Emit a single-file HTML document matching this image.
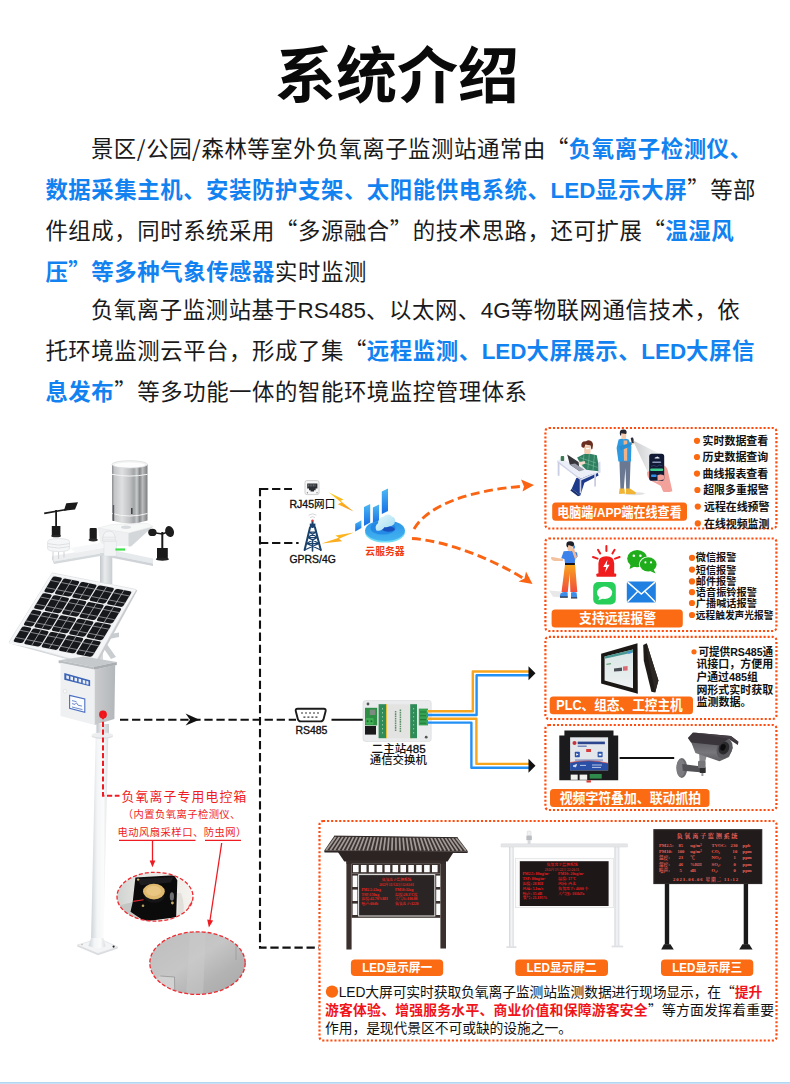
<!DOCTYPE html>
<html lang="zh-CN">
<head>
<meta charset="utf-8">
<title>系统介绍</title>
<style>
html,body{margin:0;padding:0;background:#fff;}
body{width:790px;height:1084px;position:relative;overflow:hidden;font-family:"Liberation Sans","Noto Sans CJK SC",sans-serif;color:#111;}
.title{position:absolute;left:2px;top:33px;width:790px;text-align:center;font-size:61px;font-weight:700;line-height:88px;color:#0a0a0a;letter-spacing:0px;}
.para{position:absolute;left:45.4px;top:127.8px;width:740px;font-size:22.4px;letter-spacing:.57px;line-height:38px;color:#1a1a1a;white-space:nowrap;}
.para b{color:#1282f1;font-weight:700;}
.q{font-family:"Noto Sans CJK SC","Liberation Sans",sans-serif;}
.ind{display:inline-block;width:45.5px;}
.l{letter-spacing:0;}
.sl{font-family:"Noto Sans CJK SC","Liberation Sans",sans-serif;}
#g{position:absolute;left:0;top:0;}
.foot{position:absolute;left:0;top:1082px;width:790px;height:2px;background:#c6e0f5;border-top:1px solid #b3d6f1;box-sizing:border-box;}
</style>
</head>
<body>
<div class="title">系统介绍</div>
<div class="para">
<span class="ind"></span>景区<span class="sl">/</span>公园<span class="sl">/</span>森林等室外负氧离子监测站通常由<span class="q">“</span><b>负氧离子检测仪、</b><br>
<b>数据采集主机、安装防护支架、太阳能供电系统、<span class="l">LED</span>显示大屏</b><span class="q">”</span>等部<br>
件组成，同时系统采用<span class="q">“</span>多源融合<span class="q">”</span>的技术思路，还可扩展<span class="q">“</span><b>温湿风</b><br>
<b>压<span class="q">”</span>等多种气象传感器</b>实时监测<br>
<span class="ind"></span>负氧离子监测站基于<span class="l">RS485</span>、以太网、<span class="l">4G</span>等物联网通信技术，依<br>
托环境监测云平台，形成了集<span class="q">“</span><b>远程监测、<span class="l">LED</span>大屏展示、<span class="l">LED</span>大屏信</b><br>
<b>息发布</b><span class="q">”</span>等多功能一体的智能环境监控管理体系
</div>
<svg id="g" width="790" height="1084" viewBox="0 0 790 1084">
<defs>
<style>
.dk{fill:none;stroke:#111;stroke-width:2.1;stroke-dasharray:8.3 3.75;}
.dot{fill:none;stroke:#ff4d0f;stroke-width:2.2;stroke-dasharray:2.1 1.95;}
.t{font-family:"Liberation Sans","Noto Sans CJK SC",sans-serif;}
.lab{fill:#fb6b13;}
.labt{font-family:"Liberation Sans","Noto Sans CJK SC",sans-serif;font-weight:700;fill:#fff;text-anchor:middle;}
</style>
</defs>
<!-- black dashed connectors -->
<path class="dk" d="M260 489H292M260 488V947.6H319"/>
<path class="dk" d="M260 543H298.6"/>
<path class="dk" d="M120 719.8H296"/>
<path d="M199.4 719.8L185.6 713.6L190 719.8L185.6 725.4Z" fill="#111"/>
<path d="M331.5 719.8H364" stroke="#111" stroke-width="2" fill="none"/>
<!-- orange dashed curves -->
<g fill="none" stroke="#fb6412" stroke-width="2.9" stroke-dasharray="9 4.6">
<path d="M414 529C428 505 470 490 526 486"/>
<path d="M412 538.5C450 541 498 562 526 580"/>
</g>
<path d="M534 485L521 479.5L524 486.5L522.5 491.5Z" fill="#fb6412"/>
<path d="M532.5 584L518.5 581.5L524.5 578.5L526 571.5Z" fill="#fb6412"/>
<!-- dotted boxes -->
<rect class="dot" x="545.4" y="428" width="231" height="100.5" rx="3.5"/>
<rect class="dot" x="545.4" y="538.5" width="231" height="92.5" rx="3.5"/>
<rect class="dot" x="545.4" y="636.9" width="231" height="82.1" rx="3.5"/>
<rect class="dot" x="545.4" y="725" width="231" height="85" rx="3.5"/>
<rect class="dot" x="319.5" y="821" width="457" height="219.5" rx="3.5"/>

<defs>
<linearGradient id="cyl" x1="0" x2="1" y1="0" y2="0">
<stop offset="0" stop-color="#8a8d8f"/><stop offset=".07" stop-color="#c3c5c7"/><stop offset=".28" stop-color="#dfe0e1"/><stop offset=".5" stop-color="#bfc1c3"/><stop offset=".62" stop-color="#a2a5a7"/><stop offset=".7" stop-color="#c9cbcc"/><stop offset=".78" stop-color="#85888a"/><stop offset=".86" stop-color="#b9bbbd"/><stop offset="1" stop-color="#7b7e80"/>
</linearGradient>
<linearGradient id="pole" x1="0" x2="1" y1="0" y2="0">
<stop offset="0" stop-color="#cfd4d9"/><stop offset=".35" stop-color="#f3f5f6"/><stop offset=".7" stop-color="#fbfbfb"/><stop offset="1" stop-color="#d9dde1"/>
</linearGradient>
<linearGradient id="pole2" x1="0" x2="1" y1="0" y2="0">
<stop offset="0" stop-color="#c3c7cb"/><stop offset=".4" stop-color="#e9ebed"/><stop offset="1" stop-color="#c9cdd0"/>
</linearGradient>
<linearGradient id="boxside" x1="0" x2="1" y1="0" y2="0">
<stop offset="0" stop-color="#c9cbcd"/><stop offset="1" stop-color="#b4b7ba"/>
</linearGradient>
</defs>
<g id="station">
<!-- lower pole -->
<path d="M96 724L108.6 724L103.3 941L91 941Z" fill="url(#pole)"/>
<path d="M96.6 724H109V734H96.6Z" fill="url(#pole2)"/>
<ellipse cx="102.3" cy="736" rx="10.8" ry="3" fill="#dde0e3"/>
<ellipse cx="102.3" cy="735" rx="10.8" ry="2.6" fill="#eceef0"/>
<!-- base plate -->
<path d="M77.3 945L99.2 938.6L117.8 947L98 953.5Z" fill="#f3f4f5" stroke="#dfe2e5" stroke-width=".8"/>
<path d="M77.3 945L98 953.5L117.8 947L117.8 948.6L98 955.2L77.3 946.6Z" fill="#d9dcdf"/>
<path d="M91 938L103.3 938L105.5 946.5Q97 950 88.5 946Z" fill="url(#pole)"/>
<circle cx="113.6" cy="946.6" r="1.1" fill="#222"/>
<circle cx="82" cy="944.6" r=".8" fill="#bbb"/>
<!-- upper mast -->
<path d="M100 553H112.3V584H100Z" fill="url(#pole2)"/>
<!-- rain gauge base wedge -->
<path d="M98 528L153 526.5L130 546L101 546Z" fill="#eef0f1"/>
<path d="M128.5 533L153 526.5L131 546.5L128.5 546.5Z" fill="#d4d7da"/>
<path d="M98 528L112 524.5L147.5 523.5L153 526.5L128.5 533L98 528Z" fill="#f7f8f8" stroke="#e2e4e6" stroke-width=".5"/>
<ellipse cx="126" cy="527.3" rx="5" ry="1.7" fill="#d9dcde"/>
<!-- rain gauge -->
<path d="M112 464.3V520.5Q129.7 526.5 147.5 520.5V464.3Z" fill="url(#cyl)"/>
<path d="M112 474.3Q129.7 477.8 147.5 474.3" fill="none" stroke="#f4f4f4" stroke-width="1"/>
<path d="M112 513.5Q129.7 518.5 147.5 513.5" fill="none" stroke="#f4f4f4" stroke-width="1"/>
<path d="M113.5 505V521" stroke="#5b5e60" stroke-width="1.4"/>
<path d="M131.8 508v6" stroke="#444" stroke-width="1.6"/>
<ellipse cx="129.7" cy="464.3" rx="17.8" ry="3.6" fill="#f2f3f3" stroke="#dcdedf" stroke-width=".8"/>
<ellipse cx="129.7" cy="464.9" rx="15.2" ry="2.5" fill="#fdfdfd"/>
<!-- cross arms -->
<path d="M52 556L112 546.5L112 551.5L54 561.5Z" fill="#eceef0"/>
<path d="M52 556L54 561.5L54 564L52 559Z" fill="#d2d6d9"/>
<path d="M54 561.5L112 551.5V554L54 564Z" fill="#d5d9dc"/>
<path d="M70 548L100 543L112 546L76 553Z" fill="#f6f7f8"/>
<path d="M108 549L153 558.5L153 563.5L108 554.5Z" fill="#e7eaec"/>
<path d="M108 554.5L153 563.5V566L108 557Z" fill="#cfd3d7"/>
<path d="M104 541H116.5V556H104Z" fill="#f2f3f4" stroke="#dadde0" stroke-width=".5"/>
<rect x="115.4" y="548.4" width="9.6" height="2.2" fill="#3fe24a"/>
<!-- small black cylinder + dome -->
<rect x="89.6" y="528" width="7.2" height="11.5" rx="1" fill="#1c1c1c"/>
<ellipse cx="93.2" cy="540" rx="4.6" ry="1.4" fill="#2a2a2a"/>
<path d="M102.5 541Q102.5 531 109 531Q115.5 531 115.5 541Z" fill="#f4f5f6" stroke="#d5d8db" stroke-width=".6"/>
<path d="M102.5 537.2H115.5M103 539.2H115" stroke="#d8dbde" stroke-width=".6"/>
<!-- radiation shield -->
<path d="M47.6 542Q47.6 538.6 58.6 538.6Q69.6 538.6 69.6 542V548.5Q69.6 551.5 58.6 551.5Q47.6 551.5 47.6 548.5Z" fill="#f5f6f7" stroke="#d3d6d9" stroke-width=".6"/>
<path d="M47.8 543.6Q58.6 546.6 69.4 543.6M47.8 546.6Q58.6 549.6 69.4 546.6" fill="none" stroke="#d3d6d9" stroke-width=".7"/>
<path d="M53 551.5v8M58.6 552v7M64 551.5v6" stroke="#cfd2d5" stroke-width="1"/>
<!-- wind vane -->
<path d="M51.8 526H60.4V536H51.8Z" fill="#1a1a1a"/>
<ellipse cx="56.1" cy="536" rx="4.9" ry="1.3" fill="#262626"/>
<path d="M56.1 510V527" stroke="#1a1a1a" stroke-width="1.8"/>
<path d="M44.2 513.3L66.5 509.5" stroke="#1a1a1a" stroke-width="1.7"/>
<path d="M66.3 503.2L78 502.2L75 509.6L63.8 510.8Z" fill="#1a1a1a"/>
<!-- anemometer -->
<path d="M157 548H167.8V559H157Z" fill="#1a1a1a"/>
<ellipse cx="162.4" cy="559.2" rx="6.6" ry="1.6" fill="#222"/>
<path d="M162.3 532V549" stroke="#1a1a1a" stroke-width="2"/>
<path d="M152.5 532.5L162.3 534L169 531.5" stroke="#1a1a1a" stroke-width="1.4" fill="none"/>
<ellipse cx="152.4" cy="532.4" rx="4.2" ry="3.6" fill="#1d1d1d"/>
<ellipse cx="169.6" cy="531.6" rx="4.3" ry="5.6" fill="#1d1d1d" transform="rotate(-20 169.6 531.6)"/>
<!-- panel bracket -->
<path d="M99 636L119 632.5L119 637L104 640L116 657L111 659L100 643Z" fill="#c9cdd0"/>
<path d="M97 630H103V664H97Z" fill="#d7dadd"/>
<!-- solar panel -->
<path d="M52.2 572.9L135.8 589.4L94 665.4L9.1 642Z" fill="#f4f5f6" stroke="#d8dbde" stroke-width=".7"/>
<path d="M135.8 589.4L137.3 590.6L95.4 667L94 665.4Z" fill="#c9cccf"/>
<path d="M9.1 642L94 665.4L95.4 667L9.6 643.6Z" fill="#d5d8db"/>
<g transform="matrix(.842 .166 -.43 .70 51.9 573.4)">
<rect x="0" y="0" width="100" height="100" fill="#f6f7f8"/>
<rect x="2.2" y="2.2" width="95.6" height="95.6" fill="#eceeef"/>
<g fill="#17181b"><rect x="3.2" y="3.2" width="11.1" height="22.2" rx="2.6"/><rect x="15.8" y="3.2" width="19.1" height="22.2" rx="2.6"/><rect x="36.4" y="3.2" width="19.1" height="22.2" rx="2.6"/><rect x="57.0" y="3.2" width="19.1" height="22.2" rx="2.6"/><rect x="77.7" y="3.2" width="19.1" height="22.2" rx="2.6"/><rect x="3.2" y="27.0" width="11.1" height="22.2" rx="2.6"/><rect x="15.8" y="27.0" width="19.1" height="22.2" rx="2.6"/><rect x="36.4" y="27.0" width="19.1" height="22.2" rx="2.6"/><rect x="57.0" y="27.0" width="19.1" height="22.2" rx="2.6"/><rect x="77.7" y="27.0" width="19.1" height="22.2" rx="2.6"/><rect x="3.2" y="50.8" width="11.1" height="22.2" rx="2.6"/><rect x="15.8" y="50.8" width="19.1" height="22.2" rx="2.6"/><rect x="36.4" y="50.8" width="19.1" height="22.2" rx="2.6"/><rect x="57.0" y="50.8" width="19.1" height="22.2" rx="2.6"/><rect x="77.7" y="50.8" width="19.1" height="22.2" rx="2.6"/><rect x="3.2" y="74.5" width="11.1" height="22.2" rx="2.6"/><rect x="15.8" y="74.5" width="19.1" height="22.2" rx="2.6"/><rect x="36.4" y="74.5" width="19.1" height="22.2" rx="2.6"/><rect x="57.0" y="74.5" width="19.1" height="22.2" rx="2.6"/><rect x="77.7" y="74.5" width="19.1" height="22.2" rx="2.6"/></g>
<path d="M3.2 9.3h11.1M3.2 19.5h11.1M15.8 9.3h19.1M15.8 19.5h19.1M36.4 9.3h19.1M36.4 19.5h19.1M57.0 9.3h19.1M57.0 19.5h19.1M77.7 9.3h19.1M77.7 19.5h19.1M3.2 33.0h11.1M3.2 43.2h11.1M15.8 33.0h19.1M15.8 43.2h19.1M36.4 33.0h19.1M36.4 43.2h19.1M57.0 33.0h19.1M57.0 43.2h19.1M77.7 33.0h19.1M77.7 43.2h19.1M3.2 56.8h11.1M3.2 67.0h11.1M15.8 56.8h19.1M15.8 67.0h19.1M36.4 56.8h19.1M36.4 67.0h19.1M57.0 56.8h19.1M57.0 67.0h19.1M77.7 56.8h19.1M77.7 67.0h19.1M3.2 80.5h11.1M3.2 90.7h11.1M15.8 80.5h19.1M15.8 90.7h19.1M36.4 80.5h19.1M36.4 90.7h19.1M57.0 80.5h19.1M57.0 90.7h19.1M77.7 80.5h19.1M77.7 90.7h19.1" stroke="#9a9da1" stroke-width=".9" fill="none"/>
<path d="M25.4 3.2v22.2M46.0 3.2v22.2M66.6 3.2v22.2M87.2 3.2v22.2M25.4 27.0v22.2M46.0 27.0v22.2M66.6 27.0v22.2M87.2 27.0v22.2M25.4 50.8v22.2M46.0 50.8v22.2M66.6 50.8v22.2M87.2 50.8v22.2M25.4 74.5v22.2M46.0 74.5v22.2M66.6 74.5v22.2M87.2 74.5v22.2" stroke="#a9acb0" stroke-width=".9" fill="none"/>
</g>
<!-- control box -->
<path d="M58.6 660.2L93.5 667L116.8 662L84 656.5Z" fill="#c6c9cc"/>
<path d="M58.6 660.2L93.5 667V670L58.6 663Z" fill="#b9bcbf"/>
<path d="M93.5 667L116.8 662V665L93.5 670Z" fill="#a9adb0"/>
<path d="M60.5 662.8L94.7 669.6V725L60.5 716Z" fill="#eef0f2"/>
<path d="M94.7 669.6L115.2 665L114.4 719L94.7 725Z" fill="url(#boxside)"/>
<path d="M64.3 673L90.1 680.3V686.3L64.3 679.8Z" fill="#3b63b6"/>
<path d="M66.3 675.2l2.6.7v3.4l-2.6-.7zM70.4 676.3l2.6.7v3.4l-2.6-.7zM74.5 677.5l2.6.7v3.4l-2.6-.7zM78.6 678.6l2.6.7v3.4l-2.6-.7zM82.7 679.8l2.6.7v3.4l-2.6-.7zM86.3 680.8l2.2.6v3.4l-2.2-.6z" fill="#e9eefa"/>
<circle cx="65" cy="691.2" r="1.8" fill="#fafafa" stroke="#d0d3d6" stroke-width=".5"/>
<path d="M69.6 695.4L84.8 699V712.2L69.6 708.4Z" fill="#fafbfd" stroke="#4a6fc0" stroke-width="1.1"/>
<path d="M72 700.6l4.5 1.1M72 703.6l3 .8 1.5-1.6 1.5 2.4 4 .9M72 707l10.5 2.6" fill="none" stroke="#4a6fc0" stroke-width=".8"/>
<!-- red marker -->
<circle cx="103" cy="714.5" r="3.9" fill="#f0141a"/>
<path d="M103 714V795.8H119.5" fill="none" stroke="#ee1c22" stroke-width="2" stroke-dasharray="5.2 2.6"/>
</g>

<defs>
<clipPath id="cfan"><ellipse cx="155" cy="896.7" rx="38" ry="24.4"/></clipPath>
<clipPath id="cmesh"><ellipse cx="197.5" cy="963.1" rx="47.7" ry="31.3"/></clipPath>
<linearGradient id="mesh" x1="0" y1="0" x2="1" y2="1">
<stop offset="0" stop-color="#bdbdbd"/><stop offset=".45" stop-color="#c6c6c6"/><stop offset=".7" stop-color="#b3b3b3"/><stop offset="1" stop-color="#a7a7a7"/>
</linearGradient>
<linearGradient id="fanbg" x1="0" y1="0" x2="1" y2="0">
<stop offset="0" stop-color="#cfd2cf"/><stop offset=".3" stop-color="#e3e4e1"/><stop offset=".75" stop-color="#efede8"/><stop offset="1" stop-color="#f6f4f0"/>
</linearGradient>
</defs>
<g class="t" fill="#ee1c22">
<text x="121.6" y="801.4" font-size="12.8" textLength="124.6" lengthAdjust="spacing">负氧离子专用电控箱</text>
<text x="122.8" y="817.8" font-size="10.3" textLength="117.6" lengthAdjust="spacing">（内置负氧离子检测仪、</text>
<text x="117.6" y="835.8" font-size="10.3" textLength="128.6" lengthAdjust="spacing">电动风扇采样口、防虫网）</text>
</g>
<g stroke="#ee1c22" fill="none">
<path d="M119 840.4H195.5M205 840.4H241" stroke-width="1.3"/>
<path d="M152.5 841V862" stroke-width="1.3"/>
<path d="M221.7 843L209.9 921" stroke-width="1.3"/>
</g>
<path d="M152.5 867.2L149.6 860.4H155.4Z" fill="#ee1c22"/>
<path d="M208.9 927.4L207.2 919.6L213.1 920.5Z" fill="#ee1c22"/>
<!-- fan photo -->
<g clip-path="url(#cfan)">
<rect x="116" y="871" width="79" height="52" fill="url(#fanbg)"/>
<path d="M117 906L133 902L140 925L117 925Z" fill="#c3c6c3"/>
<path d="M181 893Q186 905 182 921L176 921Q180 905 176 893Z" fill="#e1dfda"/>
<path d="M188.4 906Q192.4 901 193.6 895L195 905Q192 911 188.4 912Z" fill="#ee3b3f" opacity=".85"/>
<path d="M135.4 877.4L174.1 875.3L177.3 880.2L176.2 917.2L144.7 921.4L130.5 911.7L132.7 901.9Z" fill="#0b0b0c"/>
<path d="M137 879L173.6 877L170.6 882.6L140.6 885.2Z" fill="#1d1d1f"/>
<path d="M133.2 901.4L143.6 899.8" stroke="#e0272d" stroke-width="1.1"/>
<ellipse cx="154.4" cy="896.4" rx="10" ry="6.4" fill="#151517"/>
<ellipse cx="153.9" cy="891.6" rx="10.9" ry="7.8" fill="#dfb96d"/>
<ellipse cx="153.6" cy="891" rx="7.4" ry="5" fill="#e9c783"/>
<circle cx="138.1" cy="879.6" r="1.2" fill="#cbb06a"/><circle cx="172.4" cy="903" r="1.4" fill="#cbb06a"/><circle cx="143" cy="905.8" r="1.3" fill="#b9a062"/>
<ellipse cx="171.9" cy="896.4" rx="2.1" ry="4.2" fill="#6f7072"/>
</g>
<ellipse cx="155" cy="896.7" rx="38" ry="24.4" fill="none" stroke="#ee2a30" stroke-width="1.3" stroke-dasharray="4 2"/>
<!-- mesh photo -->
<g clip-path="url(#cmesh)">
<rect x="149" y="931" width="98" height="65" fill="url(#mesh)"/>
<path d="M190 931L206 931L203 996L186 996Z" fill="#cdcdcd" opacity=".45"/>
<path d="M160.3 976L174.5 977L174.7 990L166 996L149 996L149 985Z" fill="#d2d2d2"/>
<path d="M160.3 976L174.5 977L174.7 990" fill="none" stroke="#8f8f8f" stroke-width=".7"/>
<path d="M236 940V960" stroke="#9a9a9a" stroke-width=".8"/>
</g>
<ellipse cx="197.5" cy="963.1" rx="47.7" ry="31.3" fill="none" stroke="#ee2a30" stroke-width="1.3" stroke-dasharray="4 2"/>

<defs>
<linearGradient id="bar" x1="0" y1="0" x2="0" y2="1"><stop offset="0" stop-color="#4db9f2"/><stop offset="1" stop-color="#166de6"/></linearGradient>
<linearGradient id="disc" x1="0" y1="0" x2="0" y2="1"><stop offset="0" stop-color="#2b93e8"/><stop offset="1" stop-color="#43b4f0"/></linearGradient>
<linearGradient id="bolt" x1="0" y1="0" x2="1" y2="1"><stop offset="0" stop-color="#ffd21f"/><stop offset="1" stop-color="#f7931e"/></linearGradient>
<linearGradient id="cloudg" x1="0" y1="0" x2="1" y2="1"><stop offset="0" stop-color="#e8f8fb"/><stop offset="1" stop-color="#9fdcf2"/></linearGradient>
</defs>
<!-- RJ45 -->
<rect x="305" y="480.6" width="14" height="14" rx="1.8" fill="#f7f7f7" stroke="#c9c9c9" stroke-width=".9"/>
<path d="M307.2 483.6H317.4V488.6H315.6V490.2H314V491.4H310.6V490.2H309V488.6H307.2Z" fill="#2b2f33"/>
<path d="M308.6 484.3v2.2M310.2 484.3v2.2M311.8 484.3v2.2M313.4 484.3v2.2M315 484.3v2.2" stroke="#9aa0a6" stroke-width=".6"/>
<circle cx="307.4" cy="492.8" r=".7" fill="#888"/><circle cx="317" cy="492.8" r=".7" fill="#888"/>
<text class="t" x="289.4" y="508" font-size="10.8" font-weight="500" fill="#111" textLength="45.8" lengthAdjust="spacingAndGlyphs"><tspan stroke="#111" stroke-width=".35">RJ45</tspan>网口</text>
<!-- tower -->
<g fill="none" stroke="#1a426c" stroke-linecap="round">
<path d="M312.5 521V527M310 527.5L304.6 550M315 527.5L320.8 550" stroke-width="2"/>
<path d="M309.8 523.6H315.4V527.6H309.8Z" fill="#1a426c" stroke="none"/>
<path d="M309 532H316M307.8 537.5H317.4M306.5 543.5H319M309 532L317.4 537.5M316 532L307.8 537.5M307.8 537.5L319 543.5M317.4 537.5L306.5 543.5M306.5 543.5L320.8 550M319 543.5L304.6 550" stroke-width="1.25"/>
<path d="M312.5 541V551" stroke-width="1.6"/>
</g>
<circle cx="312.5" cy="520.6" r="1.1" fill="#e8392f"/>
<path d="M310 517.6Q312.5 515.8 315 517.6M308.6 515.2Q312.5 512.4 316.4 515.2" fill="none" stroke="#c9ccd0" stroke-width=".8"/>
<text class="t" x="289.5" y="563.2" font-size="10.8" font-weight="500" fill="#111" textLength="46.3" lengthAdjust="spacingAndGlyphs"><tspan stroke="#111" stroke-width=".35">GPRS/4G</tspan></text>
<!-- bolts -->
<path d="M328.6 492.2L343.5 499.4L340.4 500.8L353.6 511.6L337.8 504.2L341.2 502.6Z" fill="url(#bolt)"/>
<path d="M353.6 532.6L335.4 535.4L338.8 537.8L321.6 543.6L342.2 541.2L339 538.8Z" fill="url(#bolt)"/>
<!-- cloud server -->
<g fill="url(#bar)">
<path d="M355.2 523.8L361.4 520.3V528L355.2 531.5Z"/>
<path d="M364 507L370.2 504V522.5L364 526Z"/>
<path d="M372.9 507.4L379.1 504.4V521L372.9 524.5Z"/>
<path d="M381.8 491.5L388 488.4V511L381.8 514Z"/>
</g>
<ellipse cx="385" cy="532.6" rx="19.9" ry="10" fill="#74dcf2"/>
<ellipse cx="385" cy="530.6" rx="19.9" ry="10.4" fill="url(#disc)"/>
<ellipse cx="383" cy="528" rx="12.5" ry="6.6" fill="#1c7fe2" opacity=".7"/>
<ellipse cx="388.5" cy="529.2" rx="6.2" ry="2.6" fill="#1848b8" opacity=".85"/>
<path d="M376.4 530.4Q374.2 526 378 523.2Q378.4 517.4 383.6 516.4Q388 512.6 392 516.4Q396 517.6 394.8 522Q394.6 525.6 389.6 526.2Q386.6 527.6 384.6 527Q381 532 376.4 530.4Z" fill="url(#cloudg)"/>
<text class="t" x="365.3" y="554.8" font-size="10.2" font-weight="700" fill="#f03c14" textLength="39.4" lengthAdjust="spacingAndGlyphs">云服务器</text>
<!-- DB9 -->
<path d="M297.6 708.8H323.8Q326.2 708.8 325.6 711.2L323.6 719Q323 721.4 320.6 721.4H300.8Q298.4 721.4 297.8 719L295.8 711.2Q295.2 708.8 297.6 708.8Z" fill="#fff" stroke="#1b1b1b" stroke-width="1.9"/>
<path d="M301 713h2M305 713h2M309 713h2M313 713h2M317 713h2M303.4 717.2h2M307.4 717.2h2M311.4 717.2h2M315.4 717.2h2" stroke="#333" stroke-width="1.2"/>
<text class="t" x="295.4" y="733.6" font-size="10.6" font-weight="500" fill="#111" textLength="32" lengthAdjust="spacingAndGlyphs"><tspan stroke="#111" stroke-width=".35">RS485</tspan></text>
<!-- switch -->
<rect x="363" y="700.5" width="68.2" height="41" rx="2.5" fill="#e9ebec" stroke="#d5d8da" stroke-width=".6"/>
<rect x="365" y="707.8" width="12.2" height="17.6" fill="#2f8e46"/>
<rect x="369.8" y="709.6" width="5.6" height="5.4" fill="#7c8a80"/>
<rect x="365.6" y="718" width="8" height="6.4" rx="1" fill="#3fae55"/>
<circle cx="367.6" cy="721.2" r="1" fill="#1d6a30"/><circle cx="371.4" cy="721.2" r="1" fill="#1d6a30"/>
<rect x="365" y="726" width="11" height="8.6" fill="#1a1a1c"/>
<rect x="378.6" y="704.2" width="7.8" height="34" fill="#2f8b57"/><rect x="386" y="704.2" width="1.4" height="34" fill="#e6c33c"/>
<rect x="387.4" y="704.2" width="22.8" height="34" fill="#e3e4e2"/>
<path d="M410.2 738.2V729.6L412.6 727V738.2Z" fill="#e9c53a"/>
<path d="M395.6 711v20M400.4 709.6v23" stroke="#5c8f6a" stroke-width="1.5" stroke-dasharray="1.6 .7"/>
<rect x="410.2" y="704.2" width="6.8" height="34" fill="#2f8b57"/>
<path d="M382.5 708v26M413.6 708v26" stroke="#8cc79a" stroke-width="1" stroke-dasharray="1.5 2.5"/>
<rect x="418.8" y="708.6" width="9.2" height="16.8" fill="#37a153"/>
<path d="M420 712h6M420 715.8h6M420 719.6h6M420 723.2h6" stroke="#1f7a36" stroke-width="1.1"/>
<circle cx="368" cy="704" r="1.4" fill="#555"/><circle cx="426.2" cy="737.2" r="1.4" fill="#555"/>
<g class="t" font-size="11.4" font-weight="500" fill="#111" text-anchor="middle">
<text x="398.6" y="752.8" textLength="54" lengthAdjust="spacingAndGlyphs">二主站<tspan stroke="#111" stroke-width=".35">485</tspan></text>
<text x="398.3" y="764" textLength="57" lengthAdjust="spacingAndGlyphs">通信交换机</text>
</g>

<!-- wires -->
<g fill="none" stroke-width="2.4" stroke-linejoin="round">
<path d="M427 711.2H472.8V671.5H529" stroke="#f7a51c"/>
<path d="M427 715H476.6V675.3H529" stroke="#2390f5"/>
<path d="M427 718.8H476.4V763.9H529" stroke="#f7a51c"/>
<path d="M427 722.6H471.4V767.7H529" stroke="#2390f5"/>
</g>
<path d="M528.5 666.3L535.5 673.3L528.5 680.3Z" fill="#111"/>
<path d="M528.5 758.8L535.5 765.8L528.5 772.8Z" fill="#111"/>

<defs>
<linearGradient id="cone" x1="0" y1="0" x2="1" y2="0"><stop offset="0" stop-color="#bfc1c4" stop-opacity=".85"/><stop offset="1" stop-color="#e6e7e8" stop-opacity=".35"/></linearGradient>
<linearGradient id="pants2" x1="0" y1="0" x2="0" y2="1"><stop offset="0" stop-color="#f9a51c"/><stop offset="1" stop-color="#ef4d3c"/></linearGradient>
</defs>
<!-- box1: desk person -->
<g>
<path d="M597.4 462.8L600.4 461.6L600.6 472.4L597.8 473.4Z" fill="#d9dcec"/>
<path d="M576.3 478L597.6 472.7L598.6 475.4L584.4 482.8L580.3 495.6L571.7 488.7Z" fill="#1e3a8a"/>
<path d="M571.7 488.7L580.3 495.6L578 496.2L570.4 490.6Z" fill="#17306f"/>
<path d="M594.2 473.5H596V486.4H594.2Z" fill="#c9cde3"/>
<path d="M557.3 460.6L561.2 459L596.8 472L580.9 478.8Z" fill="#eceef8"/>
<path d="M557.3 460.6L580.9 478.8V480.6L557.3 462.4Z" fill="#cfd3e8"/>
<path d="M580.9 478.8L596.8 472V473.6L580.9 480.6Z" fill="#dfe2f1"/>
<path d="M557.7 462.4H559.5V475.8H557.7ZM579.7 480H581.3V493.2H579.7Z" fill="#c9cde3"/>
<path d="M577.1 457.5L586.2 453L596.8 455.3Q598.6 462 598.3 471.2L586.2 469.7L580.9 464.4Z" fill="#2f7f60"/>
<path d="M580 457.6l16 5.4M579 461l18.6 6.4M584 454.4l-1.6 13M589.4 453.6l-1.6 15.6M594.4 455l-1.4 15.4" stroke="#86c9a6" stroke-width=".5" fill="none"/>
<path d="M578.6 462.4L584.6 461L585.4 463.6L580 465.4Z" fill="#f6dccb"/>
<rect x="584.2" y="445.2" width="6.4" height="8.8" rx="2.6" fill="#f4cdb0"/>
<path d="M586 448.6h3.6" stroke="#fff" stroke-width="1.2"/>
<path d="M581.4 446.6Q580.6 441 586 441.2Q588.4 439.2 591 441Q593.6 442.6 592.8 446.6Q592.8 449.4 591.4 449.6L590.6 445.4L585.4 444.6L584.4 447.4Q582.4 448.2 581.4 446.6Z" fill="#6b2f1f"/>
<path d="M567.2 454.5L578.6 462.1L579.7 471.2L569.8 464.4Z" fill="#35353a"/>
<path d="M569.8 464.4L579.7 471.2L584.6 469.8L575 463.6Z" fill="#9a9daa"/>
<rect x="560.7" y="456" width="3.5" height="5" rx=".9" fill="#3d7a55"/>
</g>
<!-- standing person -->
<g>
<ellipse cx="634" cy="493.6" rx="11" ry="1.6" fill="#e2e2e2"/>
<path d="M619.4 460L630.6 460L629.6 489L626.2 489L625.4 468L623.8 489L620.4 489Z" fill="#6b7891"/>
<path d="M619.6 488.6H624.4L625 493.6L619 494Z" fill="#f2b533"/>
<path d="M626 488.6H630L636 492.6L635.4 494.2L626 494Z" fill="#f2b533"/>
<path d="M618.6 439.4Q623.6 437.4 628.6 439.6L631.4 446L631 461.4L618.4 461.4L616.6 448Z" fill="#2f99e0"/>
<path d="M623.6 440.4H627.2V460.8H624Z" fill="#f1b287"/>
<path d="M619 446L629 443.6L632.6 440.4L633.6 442.4L630 446.6L620.6 450.6Z" fill="#2b8dd2"/>
<path d="M630.6 439.4L633.4 438.6L634.2 444L632 444.6Z" fill="#f3c9a8"/>
<rect x="631.2" y="437.6" width="2.4" height="5.4" rx=".5" fill="#2a2d3a" transform="rotate(-14 632.4 440)"/>
<rect x="621.4" y="431.8" width="4.8" height="7.4" rx="2.2" fill="#f4cdb0"/>
<path d="M619.8 433.8Q619.4 429.4 623.6 429.6Q627 429.4 626.6 433.2L625.8 434L621.4 433.2L621 436Q619.8 435.4 619.8 433.8Z" fill="#272833"/>
</g>
<path d="M632.8 440.2L664.6 456.2L648.6 474Z" fill="url(#cone)"/>
<!-- hand + phone -->
<path d="M647 472.4Q648.4 470.6 650 471.8L650.4 479.6L656.6 481.4L663.8 479.8L664.2 465.6Q666.6 466.6 667.8 470.8L672.4 491.2Q667.6 492.6 663.2 491.8L660.6 485.8L652.4 481.4Q648.4 479.4 647.4 476Z" fill="#f3a29b"/>
<rect x="649.2" y="453.8" width="15" height="27" rx="2.6" fill="#111a35"/>
<path d="M654.6 458.6Q654.6 457 656.2 457.2Q657.2 456 658.4 457.2Q659.8 457.2 659.6 458.6Z" fill="#e9edf6"/>
<rect x="652.2" y="461.4" width="9" height="1.5" rx=".7" fill="#8b95b8"/>
<path d="M651 466.4l3-1 2.6 1.2 3-1.6 2.8.8" fill="none" stroke="#3b4a7a" stroke-width=".7"/>
<rect x="650.2" y="468.5" width="13" height="2.6" rx="1" fill="#3fcf8f"/>
<rect x="651" y="474.6" width="5.6" height="2.5" rx="1" fill="#2f8fe6"/>
<path d="M657.4 475.2Q661 473.4 664 475.6L664 479.4L657.6 480.8Z" fill="#f3a29b"/>
<!-- label1 -->
<rect class="lab" x="552.2" y="502.5" width="134.8" height="18.3" rx="3.5"/>
<text class="labt" x="619.5" y="516.6" font-size="13.6" textLength="124.4" lengthAdjust="spacingAndGlyphs">电脑端/APP端在线查看</text>
<!-- bullets1 -->
<g fill="#fb6a10"><circle cx="697" cy="440.8" r="3.1"/><circle cx="697" cy="457" r="3.1"/><circle cx="697" cy="473.6" r="3.1"/><circle cx="697.4" cy="490" r="3.1"/><circle cx="697.8" cy="506.6" r="3.1"/><circle cx="697.8" cy="523.4" r="3.1"/></g>
<g class="t" font-size="10.9" font-weight="700" fill="#111">
<text x="702.6" y="444.8" textLength="65.6" lengthAdjust="spacingAndGlyphs">实时数据查看</text>
<text x="702.6" y="461" textLength="65.6" lengthAdjust="spacingAndGlyphs">历史数据查询</text>
<text x="702.6" y="477.6" textLength="65.6" lengthAdjust="spacingAndGlyphs">曲线报表查看</text>
<text x="703.2" y="494" textLength="65.6" lengthAdjust="spacingAndGlyphs">超限多重报警</text>
<text x="704" y="511" textLength="65.4" lengthAdjust="spacingAndGlyphs">远程在线预警</text>
<text x="704" y="527.6" textLength="65.4" lengthAdjust="spacingAndGlyphs">在线视频监测</text>
</g>

<!-- box2 person -->
<g>
<path d="M549 590.4L561 591.4L563 597.6L553 596.8Z" fill="#d9d9d9" opacity=".6"/>
<path d="M565 564.6H575.1L577.3 591.9H570.4L569.7 573.4L567.8 591.9H561.5Z" fill="url(#pants2)"/>
<path d="M560.6 593.4Q563 591.4 567.6 592.2L567.8 597H560Q559.6 595 560.6 593.4Z" fill="#3f8be8"/>
<path d="M571 592.4Q574 591.6 576.6 592.6L577.2 597.6H571Z" fill="#3f8be8"/>
<path d="M560 596.6H567.8V597.8H560ZM571 597.2H577.2V598.4H571Z" fill="#1f2a44"/>
<rect x="565" y="562.8" width="9.9" height="2.2" fill="#17171c"/>
<path d="M563.7 551.3L571.3 550.7L577 552.6L577.6 556.4L575.1 559.5L574.8 563H565L564.4 558.9L561.2 558.3Z" fill="#3c82ea"/>
<path d="M550.7 557.8Q551.4 556.6 552.6 557L563.1 559L563.1 561.1L554.2 561.1Q551 560.2 550.7 557.8Z" fill="#f3c3a0"/>
<path d="M571.3 548.8L573.8 548.1L577 557L575.1 559.5Z" fill="#f0b898"/>
<rect x="567.5" y="544" width="5.2" height="7.2" rx="2.3" fill="#f2c4a6"/>
<path d="M566.4 545.6Q565.8 541.2 570 541.2Q574.6 541 574.2 545.6L573 546.4L568.4 545L567.8 547.4Q566.6 547 566.4 545.6Z" fill="#1d2028"/>
<rect x="573.2" y="545.4" width="1.7" height="3" rx=".5" fill="#2f7fe6"/>
</g>
<!-- alarm -->
<g fill="#f01d1f">
<path d="M598.4 576V563.4Q598.4 556.2 606.3 556.2Q614.2 556.2 614.2 563.4V576Z"/>
<rect x="596.4" y="573.4" width="19.8" height="3.4" rx=".8"/>
</g>
<g stroke="#f01d1f" stroke-width="2" stroke-linecap="round">
<path d="M593 557L597.6 558.6M598 549.8L600.2 553.4M606.4 546V551M614.6 549.8L612.4 553.4M619.6 557L615 558.6"/>
</g>
<path d="M607.6 559.6L603.2 567H606.2L605 572.6L609.6 564.8H606.6Z" fill="#fff"/>
<!-- wechat -->
<g>
<ellipse cx="637.2" cy="558.6" rx="10" ry="8.6" fill="#1fad1b"/>
<path d="M630.6 564.4L629.6 569L634.6 566.4Z" fill="#1fad1b"/>
<ellipse cx="648.2" cy="564.4" rx="9.3" ry="8" fill="#fff"/>
<ellipse cx="648.2" cy="564.4" rx="8.4" ry="7.1" fill="#1fad1b"/>
<path d="M653.6 569.6L655.6 573.4L650.6 571.2Z" fill="#1fad1b"/>
<circle cx="633.8" cy="555.8" r="1.25" fill="#fff"/><circle cx="640.4" cy="555.8" r="1.25" fill="#fff"/>
<circle cx="645.4" cy="562.4" r="1.05" fill="#fff"/><circle cx="651" cy="562.4" r="1.05" fill="#fff"/>
</g>
<!-- message -->
<rect x="593.2" y="582" width="22.6" height="22.4" rx="5" fill="#27cf5a"/>
<ellipse cx="604.6" cy="592.8" rx="7.6" ry="6.2" fill="#fff"/>
<path d="M599.6 596.6L598.4 600.2L603 598.4Z" fill="#fff"/>
<!-- mail -->
<rect x="626.8" y="581.4" width="29" height="21.2" rx="1.6" fill="#1f80e2"/>
<path d="M627.6 582.2L641.3 594L655 582.2" fill="none" stroke="#fff" stroke-width="1.6"/>
<path d="M627.6 601.8L637.6 591.4M655 601.8L645 591.4" fill="none" stroke="#fff" stroke-width="1.4"/>
<!-- label2 -->
<rect class="lab" x="551.6" y="609.4" width="131.2" height="18.2" rx="3.5"/>
<text class="labt" x="617.6" y="623.4" font-size="13.4" textLength="77" lengthAdjust="spacingAndGlyphs">支持远程报警</text>
<!-- bullets2 -->
<g fill="#fb6a10"><circle cx="692" cy="557.8" r="3.1"/><circle cx="692" cy="569.6" r="3.1"/><circle cx="692" cy="581.4" r="3.1"/><circle cx="692" cy="592.2" r="3.1"/><circle cx="692" cy="603" r="3.1"/><circle cx="692" cy="615" r="3.1"/></g>
<g class="t" font-size="10" font-weight="700" fill="#111">
<text x="695.8" y="560.8" textLength="40.6" lengthAdjust="spacingAndGlyphs">微信报警</text>
<text x="695.8" y="573.5" textLength="40.6" lengthAdjust="spacingAndGlyphs">短信报警</text>
<text x="695.8" y="585.4" textLength="40.6" lengthAdjust="spacingAndGlyphs">邮件报警</text>
<text x="695.8" y="595.8" textLength="61" lengthAdjust="spacingAndGlyphs">语音振铃报警</text>
<text x="695.8" y="606.6" textLength="61" lengthAdjust="spacingAndGlyphs">广播喊话报警</text>
<text x="695.8" y="619" textLength="77.6" lengthAdjust="spacingAndGlyphs">远程触发声光报警</text>
</g>

<defs>
<linearGradient id="scr" x1="0" y1="0" x2="0" y2="1"><stop offset="0" stop-color="#d9e6e6"/><stop offset="1" stop-color="#eef1f1"/></linearGradient>
<linearGradient id="cam" x1="0" y1="0" x2="0" y2="1"><stop offset="0" stop-color="#58585c"/><stop offset=".6" stop-color="#77777b"/><stop offset="1" stop-color="#5e5e62"/></linearGradient>
</defs>
<!-- monitor -->
<path d="M601.1 653.8L637.5 643.3L637.8 693.7L601.1 683.6Z" fill="#1b1715"/>
<path d="M604.6 656.4L633 649.6V688.2L604.6 680.4Z" fill="url(#scr)"/>
<path d="M604.6 656.4L633 649.6V652.6L604.6 658.8Z" fill="#4a9791"/>
<path d="M614 668.6L622 667.6V671L614 671.6Z" fill="#4a4e55"/><path d="M623 666.4L627.6 666V670.4L623 670.8Z" fill="#d96a73"/>
<path d="M606.4 664.4L611 663.6" stroke="#6aa777" stroke-width="1.2"/>
<rect x="628" y="651.8" width="3.4" height="1.8" rx=".6" fill="#3e90e0" transform="rotate(-12 629.7 652.7)"/>
<path d="M643.2 645L646.7 643.3L658.4 680.4L655.2 692.4L651.4 691.8L643.8 660.8Z" fill="#1f1b19"/>
<path d="M646.7 643.3L658.4 680.4L655.2 692.4L647.6 655Z" fill="#2d2824"/>
<!-- label3 -->
<rect class="lab" x="549.7" y="696.4" width="143.3" height="17.8" rx="3.5"/>
<text class="labt" x="619.5" y="710.4" font-size="14" textLength="126.5" lengthAdjust="spacingAndGlyphs">PLC、组态、工控主机</text>
<!-- text3 -->
<circle cx="694" cy="651.8" r="2.6" fill="#fb6a10"/>
<g class="t" font-size="11" font-weight="700" fill="#111">
<text x="698.4" y="656.2" textLength="74.8" lengthAdjust="spacingAndGlyphs">可提供RS485通</text>
<text x="696.4" y="668.4" textLength="76.8" lengthAdjust="spacingAndGlyphs">讯接口，方便用</text>
<text x="696.4" y="680.6" textLength="61.6" lengthAdjust="spacingAndGlyphs">户通过485组</text>
<text x="696.4" y="693.8" textLength="76.8" lengthAdjust="spacingAndGlyphs">网形式实时获取</text>
<text x="696.4" y="705.8" textLength="55" lengthAdjust="spacingAndGlyphs">监测数据。</text>
</g>
<!-- box4 device -->
<path d="M564.4 730.6H613.5V735.4H618.2V780.3H559.3V735.4H564.4Z" fill="#1b1b1d"/>
<rect x="570.1" y="737.3" width="38" height="33" fill="#e3e6ea"/>
<path d="M570.1 762.6Q589 758.6 608.1 763.2V770.3H570.1Z" fill="#2a4fa6"/>
<path d="M570.1 762.6Q589 758.6 608.1 763.2" fill="none" stroke="#d8473f" stroke-width=".7"/>
<circle cx="574.5" cy="743" r="2" fill="#c8323a"/>
<rect x="577.7" y="741.6" width="27.2" height="2.6" fill="#2c458f"/>
<rect x="577.7" y="745.6" width="9" height="1.2" fill="#5a6fae"/>
<rect x="586.2" y="749" width="4.8" height="3" fill="#d63a3a"/>
<rect x="574.8" y="751.8" width="5" height="5.4" rx=".6" fill="#2b53ad"/><rect x="597.6" y="751.8" width="5" height="5.4" rx=".6" fill="#2b53ad"/>
<path d="M576.2 753.2v2.6l2.4-1.3zM598.8 755.4h2.6v-1.6h-2.6z" fill="#fff"/>
<rect x="575" y="759.6" width="28" height=".9" fill="#5a6fae"/>
<path d="M573 766l3.6-1.6-1 2.6zM580 765.4h6M592 765h10M592 767.4h9" stroke="#dfe6f6" stroke-width=".8" fill="#dfe6f6"/>
<rect x="570.7" y="774.6" width="7" height="5.2" fill="#f1f1ee"/><rect x="579.6" y="774.6" width="7.6" height="5.2" fill="#f1f1ee"/>
<rect x="589.7" y="774" width="12" height="4.6" fill="#2f8b4c"/>
<rect x="586.5" y="780.3" width="4.4" height="2.2" fill="#d53a35"/>
<path d="M619.6 757.9H674.2" stroke="#111" stroke-width="2"/>
<!-- camera -->
<ellipse cx="681.8" cy="768" rx="5.4" ry="9.9" fill="#6a6a6e"/>
<ellipse cx="680.8" cy="768" rx="4.2" ry="8.8" fill="#7b7b80"/>
<path d="M682.2 763.9L705.6 767L705.6 772.7L682.8 770.8Z" fill="#515156"/>
<path d="M699 752L707 755L705 762L699.6 762.6Z" fill="#8a8a8e"/>
<rect x="698" y="760.7" width="7.6" height="7.6" rx="1.4" fill="#77777b"/>
<rect x="699.8" y="768" width="5.6" height="5" fill="#2d2d30"/>
<rect x="701.4" y="773" width="2" height="3" fill="#9a9a9e"/>
<path d="M691 741.7L729 739.2L732.8 748L729 756.9L719.5 761.3L695.4 753.1Z" fill="url(#cam)"/>
<ellipse cx="724.6" cy="748.6" rx="7.6" ry="10.4" fill="#5a5a5e" transform="rotate(22 724.6 748.6)"/>
<ellipse cx="723.9" cy="748" rx="5.2" ry="6.6" fill="#2a2a2d" transform="rotate(22 723.9 748)"/>
<ellipse cx="723" cy="747.4" rx="2.6" ry="3.3" fill="#0c0c0e" transform="rotate(22 723 747.4)"/>
<path d="M687.8 737.9L692.9 732.6L730.9 736L738.5 741.7L737.8 744.9L728.4 738.8L719.5 745.4L691 742.4Z" fill="#3a353a"/>
<path d="M692.9 732.6L730.9 736L738.5 741.7L728.4 738.8Z" fill="#453f45"/>
<!-- label4 -->
<rect class="lab" x="550" y="789" width="159.5" height="18" rx="3.5"/>
<text class="labt" x="630.4" y="803" font-size="13.6" textLength="141.4" lengthAdjust="spacingAndGlyphs">视频字符叠加、联动抓拍</text>

<defs>
<pattern id="tiles" width="2.6" height="20" patternUnits="userSpaceOnUse"><rect width="2.6" height="20" fill="#4b413e"/><rect x="0" width="1" height="20" fill="#7d736f"/></pattern>
<linearGradient id="wpost" x1="0" x2="1" y1="0" y2="0"><stop offset="0" stop-color="#d3d6da"/><stop offset=".5" stop-color="#f4f5f6"/><stop offset="1" stop-color="#d9dce0"/></linearGradient>
</defs>
<!-- LED1 -->
<g>
<path d="M346.4 860H351.6V949.5H346.4ZM440.4 860H446V948.6H440.4Z" fill="#3a302d"/>
<path d="M337.2 851L453.7 852L447.6 861.6H344.3Z" fill="#2c2422"/>
<path d="M334.2 836.1L457.7 837.7L467.9 851.3L324.1 850.7Z" fill="#3b3331"/>
<path d="M336.0 836.5L326.2 850.2M339.5 836.6L330.3 850.2M343.0 836.6L334.4 850.2M346.6 836.7L338.5 850.3M350.1 836.7L342.6 850.3M353.6 836.8L346.7 850.3M357.1 836.8L350.8 850.3M360.7 836.8L354.9 850.3M364.2 836.9L359.0 850.3M367.7 836.9L363.1 850.4M371.2 837.0L367.2 850.4M374.8 837.0L371.3 850.4M378.3 837.1L375.5 850.4M381.8 837.1L379.6 850.4M385.4 837.2L383.7 850.4M388.9 837.2L387.8 850.5M392.4 837.3L391.9 850.5M395.9 837.3L396.0 850.5M399.5 837.3L400.1 850.5M403.0 837.4L404.2 850.5M406.5 837.4L408.3 850.6M410.1 837.5L412.4 850.6M413.6 837.5L416.5 850.6M417.1 837.6L420.7 850.6M420.6 837.6L424.8 850.6M424.2 837.7L428.9 850.6M427.7 837.7L433.0 850.7M431.2 837.8L437.1 850.7M434.8 837.8L441.2 850.7M438.3 837.8L445.3 850.7M441.8 837.9L449.4 850.7M445.4 837.9L453.5 850.7M448.9 838.0L457.6 850.8M452.4 838.0L461.7 850.8M455.9 838.1L465.8 850.8" stroke="#a39b97" stroke-width="1.7" fill="none"/>
<path d="M324.1 850.7L467.9 851.3L467.5 853L324.6 852.4Z" fill="#2e2624"/>
<path d="M334.2 836.1L457.7 837.7" stroke="#2e2624" stroke-width="1"/>
<rect x="346.4" y="860.4" width="99.6" height="3.4" fill="#352b28"/>
<rect x="351.6" y="863.8" width="88.8" height="9.6" fill="#3a302d"/>
<g fill="#fbfbfb">
<rect x="353" y="865" width="5.6" height="7.2"/><rect x="360.9" y="865" width="5.6" height="7.2"/><rect x="368.8" y="865" width="5.6" height="7.2"/><rect x="376.7" y="865" width="5.6" height="7.2"/><rect x="384.6" y="865" width="5.6" height="7.2"/><rect x="392.5" y="865" width="5.6" height="7.2"/><rect x="400.4" y="865" width="5.6" height="7.2"/><rect x="408.3" y="865" width="5.6" height="7.2"/><rect x="416.2" y="865" width="5.6" height="7.2"/><rect x="424.1" y="865" width="5.6" height="7.2"/><rect x="432" y="865" width="5.6" height="7.2"/>
</g>
<rect x="351.6" y="873.4" width="88.8" height="44.4" fill="#3a302d"/>
<g fill="#fbfbfb">
<rect x="352.6" y="875.6" width="4.8" height="11.4"/><rect x="352.6" y="889.6" width="4.8" height="11.4"/><rect x="352.6" y="903.6" width="4.8" height="11.4"/>
<rect x="436.2" y="875.6" width="4" height="11.4"/><rect x="436.2" y="889.6" width="4" height="11.4"/><rect x="436.2" y="903.6" width="4" height="11.4"/>
</g>
<rect x="358.6" y="874.6" width="76.2" height="41.4" fill="#2a2424" stroke="#e9e9e9" stroke-width="1"/>
<g font-family="'Liberation Serif','Noto Serif CJK SC',serif" fill="#ee2420" font-weight="700" font-size="3.7">
<text x="396.5" y="881" text-anchor="middle">负氧离子监测系统</text>
<text x="396.5" y="886" text-anchor="middle" font-size="3.2">2022年11月22日 12:02:01</text>
<text x="361.6" y="891">PM2.5:22ug</text><text x="395" y="891">PM10:32ug</text>
<text x="361.6" y="895.8">TSP:150ug</text><text x="395" y="895.8">温度:20.3℃度</text>
<text x="361.6" y="900.4">湿度:42.70%RH</text><text x="395" y="900.4">大气压:100.80</text>
<text x="361.6" y="905">噪声:60db</text><text x="395" y="905">负氧离子:1220</text>
</g>
</g>
<rect class="lab" x="350.9" y="959.5" width="92.3" height="16.4" rx="4"/>
<text class="labt" x="397.2" y="972.2" font-size="12.4" textLength="70" lengthAdjust="spacingAndGlyphs">LED显示屏一</text>
<!-- LED2 -->
<g>
<rect x="527.2" y="831" width="3.8" height="4.6" rx="1" fill="#f1f1f1" stroke="#cfd2d5" stroke-width=".5"/>
<rect x="526.4" y="835.6" width="5.4" height="4.6" fill="#b9bcc0"/>
<rect x="527.6" y="840" width="3" height="4" fill="#d7d9dc"/>
<rect x="509" y="846" width="4.8" height="101.6" fill="url(#wpost)"/>
<rect x="614.4" y="846" width="5" height="101" fill="url(#wpost)"/>
<rect x="501" y="843.8" width="126.6" height="3.3" rx=".6" fill="#e4e6e9" stroke="#d3d6d9" stroke-width=".4"/>
<rect x="506.4" y="946.2" width="10" height="1.8" fill="#dfe1e4"/><rect x="611.6" y="945.6" width="11.6" height="1.8" fill="#dfe1e4"/>
<rect x="515.6" y="858.3" width="97.8" height="49.4" fill="#fafafa" stroke="#dcdfe2" stroke-width=".7"/>
<rect x="519.8" y="861.2" width="88.8" height="44.8" fill="#1e1718"/>
<g font-family="'Liberation Serif','Noto Serif CJK SC',serif" fill="#f01a1c" font-weight="700" font-size="3.9">
<text x="562" y="866" text-anchor="middle">负氧离子监测系统</text>
<text x="562" y="870.6" text-anchor="middle" font-size="3.3" fill="#b5302c">2024年3月22日   22:26:31</text>
<text x="522.4" y="875.2">PM2.5: 80ug/m³</text><text x="558" y="875.2">PM10: 20ug/m³</text>
<text x="522.4" y="879.9">TSP: 80ug/m³</text><text x="558" y="879.9">温度: 17℃</text>
<text x="522.4" y="884.7">湿度: 28 RH</text><text x="558" y="884.7">风向: 西北</text>
<text x="522.4" y="889.6">风速: 5.1m/s</text><text x="558" y="889.6">负氧离子: 4600 个</text>
<text x="522.4" y="894.5">噪声: 35 dB</text><text x="558" y="894.5">大气压: 101kPa</text>
<text x="522.4" y="899.4">氧气: 21.195%</text>
</g>
</g>
<rect class="lab" x="515.3" y="959.5" width="92.7" height="16.4" rx="4"/>
<text class="labt" x="561.6" y="972.2" font-size="12.4" textLength="70" lengthAdjust="spacingAndGlyphs">LED显示屏二</text>
<!-- LED3 -->
<g>
<rect x="664.8" y="883" width="4.4" height="61.6" fill="#19191a"/><rect x="743.7" y="883" width="4.4" height="61.6" fill="#19191a"/>
<path d="M664 944.3H670.4L673.8 949.6H661.2ZM742.4 944.3H749.2L752.6 949.6H739.2Z" fill="#1d1d1e"/>
<rect x="653.3" y="829.1" width="109" height="55" fill="#2d2828"/>
<rect x="654.6" y="830.4" width="106.4" height="52.4" fill="#221b1b"/>
<g font-family="'Liberation Serif','Noto Serif CJK SC',serif" fill="#f0625a" font-weight="700" font-size="4.6">
<text x="707" y="837.6" text-anchor="middle" font-size="6.2" textLength="61" lengthAdjust="spacing">负氧离子监测系统</text>
<text x="659" y="846.6">PM2.5:</text><text x="678.4" y="846.6">85</text><text x="690.2" y="846.6">ug/m³</text><text x="711.6" y="846.6">TVOC:</text><text x="730.6" y="846.6">230</text><text x="742.6" y="846.6">ppb</text>
<text x="659" y="852.8">PM10:</text><text x="677.4" y="852.8">100</text><text x="690.2" y="852.8">ug/m³</text><text x="711.6" y="852.8">CO₂</text><text x="732.6" y="852.8">10</text><text x="742.6" y="852.8">ppm</text>
<text x="659" y="859.2">温度:</text><text x="678.4" y="859.2">23</text><text x="690.2" y="859.2">℃</text><text x="711.6" y="859.2">NO₂:</text><text x="733.6" y="859.2">1</text><text x="742.6" y="859.2">ppm</text>
<text x="659" y="865.6">湿度:</text><text x="678.4" y="865.6">46</text><text x="690.2" y="865.6">%RH</text><text x="711.6" y="865.6">SO₂:</text><text x="733.6" y="865.6">0</text><text x="742.6" y="865.6">ppm</text>
<text x="659" y="871.8">噪声:</text><text x="679.6" y="871.8">5</text><text x="690.2" y="871.8">dB</text><text x="711.6" y="871.8">O₃:</text><text x="733.6" y="871.8">0</text><text x="742.6" y="871.8">ppm</text>
<text x="705.6" y="880.6" text-anchor="middle" textLength="65" lengthAdjust="spacing">2023-06-06 星期二 11:12</text>
</g>
</g>
<rect class="lab" x="661" y="959.5" width="92.3" height="16.4" rx="4"/>
<text class="labt" x="707.2" y="972.2" font-size="12.4" textLength="70" lengthAdjust="spacingAndGlyphs">LED显示屏三</text>
<!-- bottom text -->
<circle cx="332" cy="991.6" r="6.2" fill="#fb6a10"/>
<g class="t" font-size="13.8" fill="#111">
<text x="338.8" y="996.6" textLength="423.4" lengthAdjust="spacing">LED大屏可实时获取负氧离子监测站监测数据进行现场显示，在<tspan font-family="'Noto Sans CJK SC','Liberation Sans',sans-serif">“</tspan><tspan fill="#f0141a" font-weight="700">提升</tspan></text>
<text x="325" y="1014.6" textLength="449" lengthAdjust="spacing"><tspan fill="#f0141a" font-weight="700">游客体验、增强服务水平、商业价值和保障游客安全</tspan><tspan font-family="'Noto Sans CJK SC','Liberation Sans',sans-serif">”</tspan>等方面发挥着重要</text>
<text x="325" y="1032.8" textLength="247" lengthAdjust="spacing">作用，是现代景区不可或缺的设施之一。</text>
</g>


</svg>
<div class="foot"></div>
</body>
</html>
